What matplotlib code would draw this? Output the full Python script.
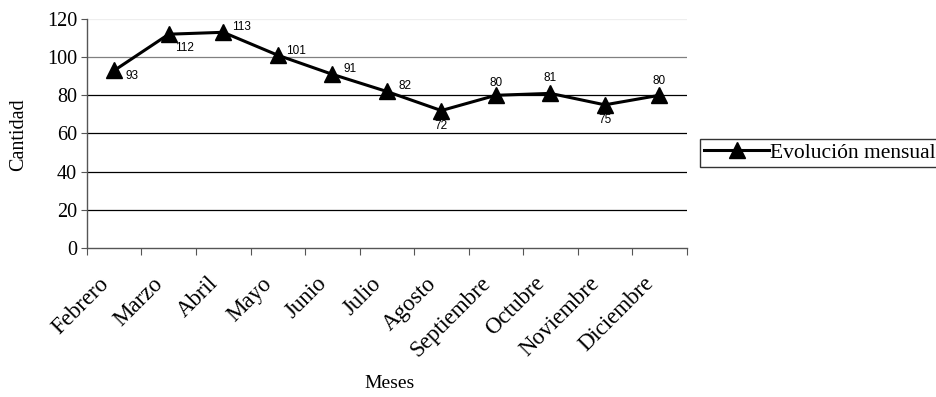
import numpy as np
import matplotlib.pyplot as plt
from matplotlib.lines import Line2D
from matplotlib.transforms import ScaledTranslation

meses = ["Febrero", "Marzo", "Abril", "Mayo", "Junio", "Julio", "Agosto",
         "Septiembre", "Octubre", "Noviembre", "Diciembre"]
cantidad = [93, 112, 113, 101, 91, 82, 72, 80, 81, 75, 80]
# label offsets in points (dx, dy), as Excel placed them
offsets = [(13, -4), (11, -10), (13, 4), (13, 3), (13, 4), (13, 4),
           (0, -11), (0, 9), (0, 11), (0, -11), (0, 10)]
y_ticks = [0, 20, 40, 60, 80, 100, 120]
grid_colors = {20: "black", 40: "black", 60: "black", 80: "black",
               100: "#808080", 120: "#eeeeee"}

serif = "Liberation Serif"
sans = "Liberation Sans"

fig = plt.figure(figsize=(9.37, 3.97), dpi=100)
ax = fig.add_axes([0.0928, 0.3753, 0.640, 0.577])

x = np.arange(len(meses))
for lvl, c in grid_colors.items():
    ax.axhline(lvl, color=c, lw=0.9, zorder=1)

ax.plot(x, cantidad, color="black", lw=2.2, marker="^", markersize=11,
        zorder=3)
for xi, yi, (dx, dy) in zip(x, cantidad, offsets):
    ax.annotate(str(yi), (xi, yi), xytext=(dx, dy), textcoords="offset points",
                ha="center", va="center", fontsize=8.5, family=sans)

ax.set_xlim(-0.5, len(meses) - 0.5)
ax.set_ylim(0, 120)
ax.set_yticks(y_ticks)
ax.set_yticklabels([str(v) for v in y_ticks], family=serif, fontsize=14.5)
ax.set_xticks(np.arange(len(meses) + 1) - 0.5)
ax.set_xticklabels([])
ax.tick_params(axis="x", length=5, color="#555555", direction="out")
ax.tick_params(axis="y", length=4, color="#555555", pad=3)

# month labels, rotated like Excel does
shift = ScaledTranslation(-16 / 100, -25 / 100, fig.dpi_scale_trans)
for xi, name in zip(x, meses):
    ax.text(xi, 0, name, transform=ax.get_xaxis_transform() + shift,
            rotation=45, ha="right", va="top", rotation_mode="anchor",
            family=serif, fontsize=16.5)

for s in ["top", "right"]:
    ax.spines[s].set_visible(False)
for s in ["left", "bottom"]:
    ax.spines[s].set_color("#555555")
    ax.spines[s].set_linewidth(1)

ax.set_ylabel("Cantidad", family=serif, fontsize=14.5)
ax.yaxis.set_label_coords(-0.098, 0.493)
ax.set_xlabel("Meses", family=serif, fontsize=14)
ax.xaxis.set_label_coords(0.505, -0.556)

handle = Line2D([], [], color="black", lw=2.2, marker="^", markersize=11)
leg = fig.legend([handle], ["Evolución mensual"], loc="center left",
                 bbox_to_anchor=(0.747, 0.615), frameon=True, fancybox=False,
                 prop={"family": serif, "size": 15.5}, handlelength=3.0,
                 handletextpad=0.05, borderpad=0.2, borderaxespad=0)
leg.get_frame().set_edgecolor("black")
leg.get_frame().set_linewidth(1)

fig.savefig("out.png", dpi=100)
